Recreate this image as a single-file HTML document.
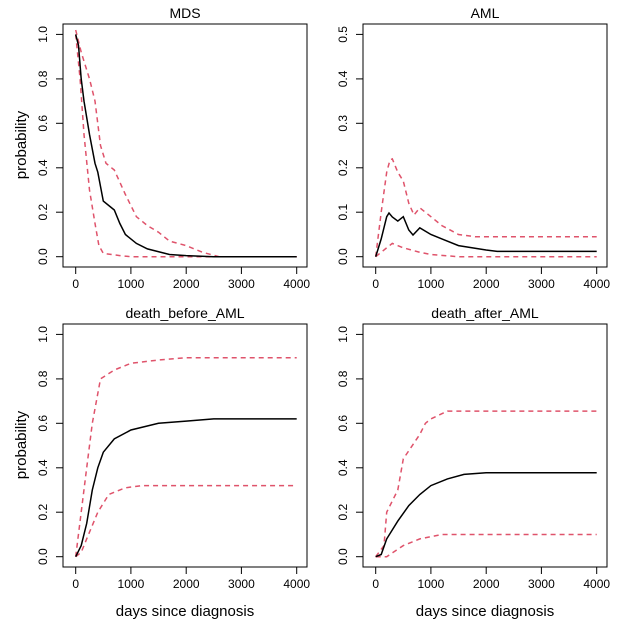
<!DOCTYPE html>
<html><head><meta charset="utf-8"><style>
html,body{margin:0;padding:0;background:#fff}
svg{display:block}
text{font-family:"Liberation Sans",Arial,sans-serif;fill:#000}
.t{font-size:12px}
.ti{font-size:14px}
.lab{font-size:15px}
.bx{fill:none;stroke:#000;stroke-width:1}
.tk{stroke:#000;stroke-width:1}
.k{fill:none;stroke:#000;stroke-width:1.5}
.r{fill:none;stroke:#DF536B;stroke-width:1.5;stroke-dasharray:5,4}
</style></head><body>
<svg width="623" height="630" viewBox="0 0 623 630" xmlns="http://www.w3.org/2000/svg">
<defs>
<g id="xax">
<line class="tk" x1="75.7" y1="0" x2="296.7" y2="0"/>
<line class="tk" x1="75.7" y1="0" x2="75.7" y2="7"/>
<line class="tk" x1="130.9" y1="0" x2="130.9" y2="7"/>
<line class="tk" x1="186.2" y1="0" x2="186.2" y2="7"/>
<line class="tk" x1="241.4" y1="0" x2="241.4" y2="7"/>
<line class="tk" x1="296.7" y1="0" x2="296.7" y2="7"/>
<text class="t" x="75.7" y="21" text-anchor="middle">0</text>
<text class="t" x="130.9" y="21" text-anchor="middle">1000</text>
<text class="t" x="186.2" y="21" text-anchor="middle">2000</text>
<text class="t" x="241.4" y="21" text-anchor="middle">3000</text>
<text class="t" x="296.7" y="21" text-anchor="middle">4000</text>
</g>
<g id="ytk">
<line class="tk" x1="0" y1="34.4" x2="0" y2="256.7"/>
<line class="tk" x1="0" y1="34.4" x2="-7" y2="34.4"/>
<line class="tk" x1="0" y1="78.9" x2="-7" y2="78.9"/>
<line class="tk" x1="0" y1="123.3" x2="-7" y2="123.3"/>
<line class="tk" x1="0" y1="167.8" x2="-7" y2="167.8"/>
<line class="tk" x1="0" y1="212.2" x2="-7" y2="212.2"/>
<line class="tk" x1="0" y1="256.7" x2="-7" y2="256.7"/>
</g>
</defs>

<!-- Panel 1 MDS -->
<rect class="bx" x="63" y="24" width="244" height="243"/>
<text class="ti" x="185" y="18" text-anchor="middle">MDS</text>
<use href="#xax" transform="translate(0,267)"/>
<use href="#ytk" transform="translate(63,0)"/>
<g class="t" text-anchor="middle">
<text transform="translate(47,34.4) rotate(-90)">1.0</text>
<text transform="translate(47,78.9) rotate(-90)">0.8</text>
<text transform="translate(47,123.3) rotate(-90)">0.6</text>
<text transform="translate(47,167.8) rotate(-90)">0.4</text>
<text transform="translate(47,212.2) rotate(-90)">0.2</text>
<text transform="translate(47,256.7) rotate(-90)">0.0</text>
</g>
<text class="lab" text-anchor="middle" transform="translate(26,145) rotate(-90)">probability</text>
<polyline class="r" points="75.7,30 81.2,52.2 89.5,78.9 95,101.1 100.5,145.5 106,163.3 114.3,170 125.4,194.5 136.4,216.7 147.4,225.6 158.5,232.2 169.5,241.1 186.1,245.6 202.6,252.3 219.2,256.7 296.7,256.7"/>
<polyline class="r" points="75.7,34.4 80.1,78.9 84,134.4 89.5,190 95,223.4 98.9,245.6 103.3,253.4 119.8,255.6 130.9,256.7 296.7,256.7"/>
<polyline class="k" points="75.7,34.4 78.5,45.5 81.2,78.9 84,101.1 89.5,134.4 95,163.3 97.8,172.2 103.3,201.1 114.3,210 119.8,223.4 125.4,234.5 136.4,243.4 147.4,248.9 169.5,254.5 186.1,255.6 213.7,256.7 296.7,256.7"/>

<!-- Panel 2 AML -->
<rect class="bx" x="363" y="24" width="244" height="243"/>
<text class="ti" x="485" y="18" text-anchor="middle">AML</text>
<use href="#xax" transform="translate(300,267)"/>
<use href="#ytk" transform="translate(363,0)"/>
<g class="t" text-anchor="middle">
<text transform="translate(347,34.4) rotate(-90)">0.5</text>
<text transform="translate(347,78.9) rotate(-90)">0.4</text>
<text transform="translate(347,123.3) rotate(-90)">0.3</text>
<text transform="translate(347,167.8) rotate(-90)">0.2</text>
<text transform="translate(347,212.2) rotate(-90)">0.1</text>
<text transform="translate(347,256.7) rotate(-90)">0.0</text>
</g>
<polyline class="r" points="375.7,256.7 381.2,212.2 386.7,172.2 390,160 392.3,158.9 397.8,172.2 403.3,181.1 408.8,203.3 414,215 419.8,207.8 430.9,216.7 441.9,225.6 458.5,234.5 475,236.7 596.7,236.7"/>
<polyline class="r" points="375.7,256.7 386.7,247.8 392.3,243.4 403.3,247.8 419.8,252.3 430.9,254.5 458.5,256.7 596.7,256.7"/>
<polyline class="k" points="375.7,256.7 381.2,238.9 386.7,216.7 389,213 392.3,217 397.8,221.1 403.3,216.7 408.8,230 413,235 419.8,227.8 430.9,234.5 441.9,238.9 458.5,245.6 486.1,250 497.1,251.4 596.7,251.4"/>

<!-- Panel 3 death_before_AML -->
<rect class="bx" x="63" y="324" width="244" height="243"/>
<text class="ti" x="185" y="318" text-anchor="middle">death_before_AML</text>
<use href="#xax" transform="translate(0,567)"/>
<use href="#ytk" transform="translate(63,300)"/>
<g class="t" text-anchor="middle">
<text transform="translate(47,334.4) rotate(-90)">1.0</text>
<text transform="translate(47,378.9) rotate(-90)">0.8</text>
<text transform="translate(47,423.3) rotate(-90)">0.6</text>
<text transform="translate(47,467.8) rotate(-90)">0.4</text>
<text transform="translate(47,512.2) rotate(-90)">0.2</text>
<text transform="translate(47,556.7) rotate(-90)">0.0</text>
</g>
<text class="lab" text-anchor="middle" transform="translate(26,445) rotate(-90)">probability</text>
<text class="lab" x="185" y="616" text-anchor="middle">days since diagnosis</text>
<polyline class="r" points="75.7,556.7 81.2,512.2 86.7,467.8 92.3,423.3 100.5,378.9 114.3,370 130.9,363.3 158.5,360 186.1,357.7 296.7,357.7"/>
<polyline class="r" points="75.7,556.7 81.2,552.3 86.7,538.9 97.8,512.2 108.8,494.5 125.4,487.8 141.9,485.6 296.7,485.6"/>
<polyline class="k" points="75.7,556.7 81.2,545.6 86.7,523.4 92.3,490 97.8,467.8 103.3,452.2 114.3,438.9 130.9,430 158.5,423.3 186.1,421.1 213.7,418.9 296.7,418.9"/>

<!-- Panel 4 death_after_AML -->
<rect class="bx" x="363" y="324" width="244" height="243"/>
<text class="ti" x="485" y="318" text-anchor="middle">death_after_AML</text>
<use href="#xax" transform="translate(300,567)"/>
<use href="#ytk" transform="translate(363,300)"/>
<g class="t" text-anchor="middle">
<text transform="translate(347,334.4) rotate(-90)">1.0</text>
<text transform="translate(347,378.9) rotate(-90)">0.8</text>
<text transform="translate(347,423.3) rotate(-90)">0.6</text>
<text transform="translate(347,467.8) rotate(-90)">0.4</text>
<text transform="translate(347,512.2) rotate(-90)">0.2</text>
<text transform="translate(347,556.7) rotate(-90)">0.0</text>
</g>
<text class="lab" x="485" y="616" text-anchor="middle">days since diagnosis</text>
<polyline class="r" points="375.7,556.7 384,545.6 386.7,512.2 397.8,490 403.3,458.9 419.8,434.4 425.4,423.3 430.9,418.9 447.4,411.1 596.7,411.1"/>
<polyline class="r" points="375.7,556.7 386.7,556.7 403.3,545.6 419.8,538.9 441.9,534.5 596.7,534.5"/>
<polyline class="k" points="375.7,556.7 381.2,554.5 386.7,538.9 397.8,521.1 408.8,505.6 419.8,494.5 430.9,485.6 447.4,478.9 464,474.4 486.1,472.7 596.7,472.7"/>
</svg>
</body></html>
